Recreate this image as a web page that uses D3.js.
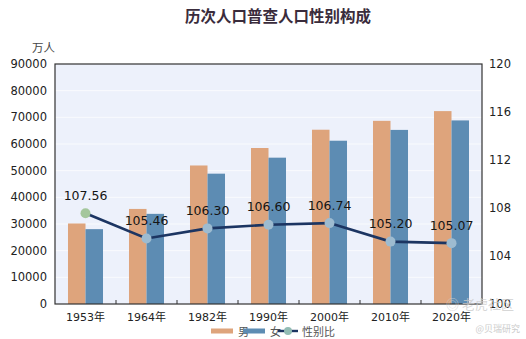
<!DOCTYPE html>
<html><head><meta charset="utf-8">
<script src="https://cdn.jsdelivr.net/npm/d3@7/dist/d3.min.js"></script>
<style>
html,body{margin:0;padding:0;background:#fff;}
svg{display:block;font-family:"DejaVu Sans","Noto Sans CJK SC",sans-serif;}
</style></head>
<body><svg id="c" width="526" height="339"></svg>
<script>
const years = ["1953年","1964年","1982年","1990年","2000年","2010年","2020年"];
const male = [30190, 35652, 51944, 58495, 65355, 68685, 72334];
const female = [28070, 33806, 48874, 54873, 61228, 65287, 68844];
const ratio = [107.56, 105.46, 106.30, 106.60, 106.74, 105.20, 105.07];
const leftTicks = [0,10000,20000,30000,40000,50000,60000,70000,80000,90000];
const rightTicks = [100,104,108,112,116,120];

const W=526,H=339, L=55, R=482, T=64, B=304;
const svg=d3.select("#c");
const x=d3.scaleBand().domain(years).range([L,R]).padding(0);
const y=d3.scaleLinear().domain([0,90000]).range([B,T]);
const y2=d3.scaleLinear().domain([100,120]).range([B,T]);
const bw=x.bandwidth()*0.287;
const cx=d=>x(d)+x.bandwidth()/2;

svg.append("rect").attr("x",L).attr("y",T).attr("width",R-L).attr("height",B-T).attr("fill","#edf1fb");
svg.append("g").selectAll("line").data(leftTicks.slice(1,-1)).join("line")
  .attr("x1",L).attr("x2",R).attr("y1",d=>y(d)).attr("y2",d=>y(d))
  .attr("stroke","#ffffff").attr("stroke-opacity",0.7).attr("stroke-width",1);

svg.append("g").selectAll("rect").data(years).join("rect")
  .attr("x",d=>cx(d)-bw).attr("width",bw)
  .attr("y",(d,i)=>y(male[i])).attr("height",(d,i)=>B-y(male[i]))
  .attr("fill","#dea47c");
svg.append("g").selectAll("rect").data(years).join("rect")
  .attr("x",d=>cx(d)).attr("width",bw)
  .attr("y",(d,i)=>y(female[i])).attr("height",(d,i)=>B-y(female[i]))
  .attr("fill","#5d8cb3");

const line=d3.line().x((d,i)=>cx(years[i])).y(d=>y2(d));
svg.append("path").datum(ratio).attr("d",line).attr("fill","none")
  .attr("stroke","#1c3562").attr("stroke-width",2.6);
svg.append("g").selectAll("circle").data(ratio).join("circle")
  .attr("cx",(d,i)=>cx(years[i])).attr("cy",d=>y2(d)).attr("r",5)
  .attr("fill",(d,i)=>i===0?"#a4c79c":"#9dbbd0");
svg.append("g").selectAll("text").data(ratio).join("text")
  .attr("x",(d,i)=>cx(years[i])).attr("y",d=>y2(d)-18)
  .attr("text-anchor","middle").attr("dominant-baseline","central")
  .attr("font-size",12.5).attr("fill","#151515").text(d=>d.toFixed(2));

svg.append("rect").attr("x",L).attr("y",T).attr("width",R-L).attr("height",B-T)
  .attr("fill","none").attr("stroke","#333").attr("stroke-width",1.2);

svg.append("g").selectAll("line").data(years.slice(1)).join("line")
  .attr("x1",d=>x(d)).attr("x2",d=>x(d)).attr("y1",B).attr("y2",B-4)
  .attr("stroke","#333").attr("stroke-width",1);
svg.append("g").selectAll("text").data(years).join("text")
  .attr("x",d=>cx(d)).attr("y",B+13).attr("text-anchor","middle")
  .attr("dominant-baseline","central").attr("font-size",11).attr("fill","#222").text(d=>d);

svg.append("g").selectAll("text").data(leftTicks).join("text")
  .attr("x",L-8).attr("y",d=>y(d)).attr("text-anchor","end")
  .attr("dominant-baseline","central").attr("font-size",11.5).attr("fill","#222").text(d=>d);
svg.append("g").selectAll("text").data(rightTicks).join("text")
  .attr("x",R+7).attr("y",d=>y2(d)).attr("text-anchor","start")
  .attr("dominant-baseline","central").attr("font-size",11.5).attr("fill","#222").text(d=>d);

svg.append("text").attr("x",32).attr("y",47).attr("dominant-baseline","central")
  .attr("font-size",11.5).attr("fill","#444").attr("font-family","Noto Sans CJK SC").text("万人");
svg.append("text").attr("x",278).attr("y",15).attr("text-anchor","middle").attr("dominant-baseline","central")
  .attr("font-size",15.5).attr("font-weight","bold").attr("fill","#3a2c3c")
  .attr("font-family","Noto Sans CJK SC").text("历次人口普查人口性别构成");

const lg=svg.append("g");
const ly=331;
lg.append("rect").attr("x",211).attr("y",ly-2.5).attr("width",22).attr("height",5).attr("fill","#dea47c");
lg.append("text").attr("x",238).attr("y",ly).attr("dominant-baseline","central").attr("font-size",11).attr("fill","#555").attr("font-family","Noto Sans CJK SC").text("男");
lg.append("rect").attr("x",243).attr("y",ly-2.5).attr("width",22).attr("height",5).attr("fill","#5d8cb3");
lg.append("text").attr("x",270).attr("y",ly).attr("dominant-baseline","central").attr("font-size",11).attr("fill","#555").attr("font-family","Noto Sans CJK SC").text("女");
lg.append("line").attr("x1",278).attr("x2",298).attr("y1",ly).attr("y2",ly).attr("stroke","#1c3562").attr("stroke-width",2.4);
lg.append("circle").attr("cx",288).attr("cy",ly).attr("r",4).attr("fill","#92bcb4");
lg.append("text").attr("x",302).attr("y",ly).attr("dominant-baseline","central").attr("font-size",11).attr("fill","#555").attr("font-family","Noto Sans CJK SC").text("性别比");

svg.append("text").attr("x",514).attr("y",303).attr("text-anchor","end").attr("dominant-baseline","central")
  .attr("font-size",13).attr("fill","#ccc").attr("fill-opacity",0.8).attr("font-family","Noto Sans CJK SC").text("◎ 老虎社区");
svg.append("text").attr("x",520).attr("y",328).attr("text-anchor","end").attr("dominant-baseline","central")
  .attr("font-size",9).attr("fill","#ccc").attr("font-family","Noto Sans CJK SC").text("@贝瑞研究");
</script></body></html>
